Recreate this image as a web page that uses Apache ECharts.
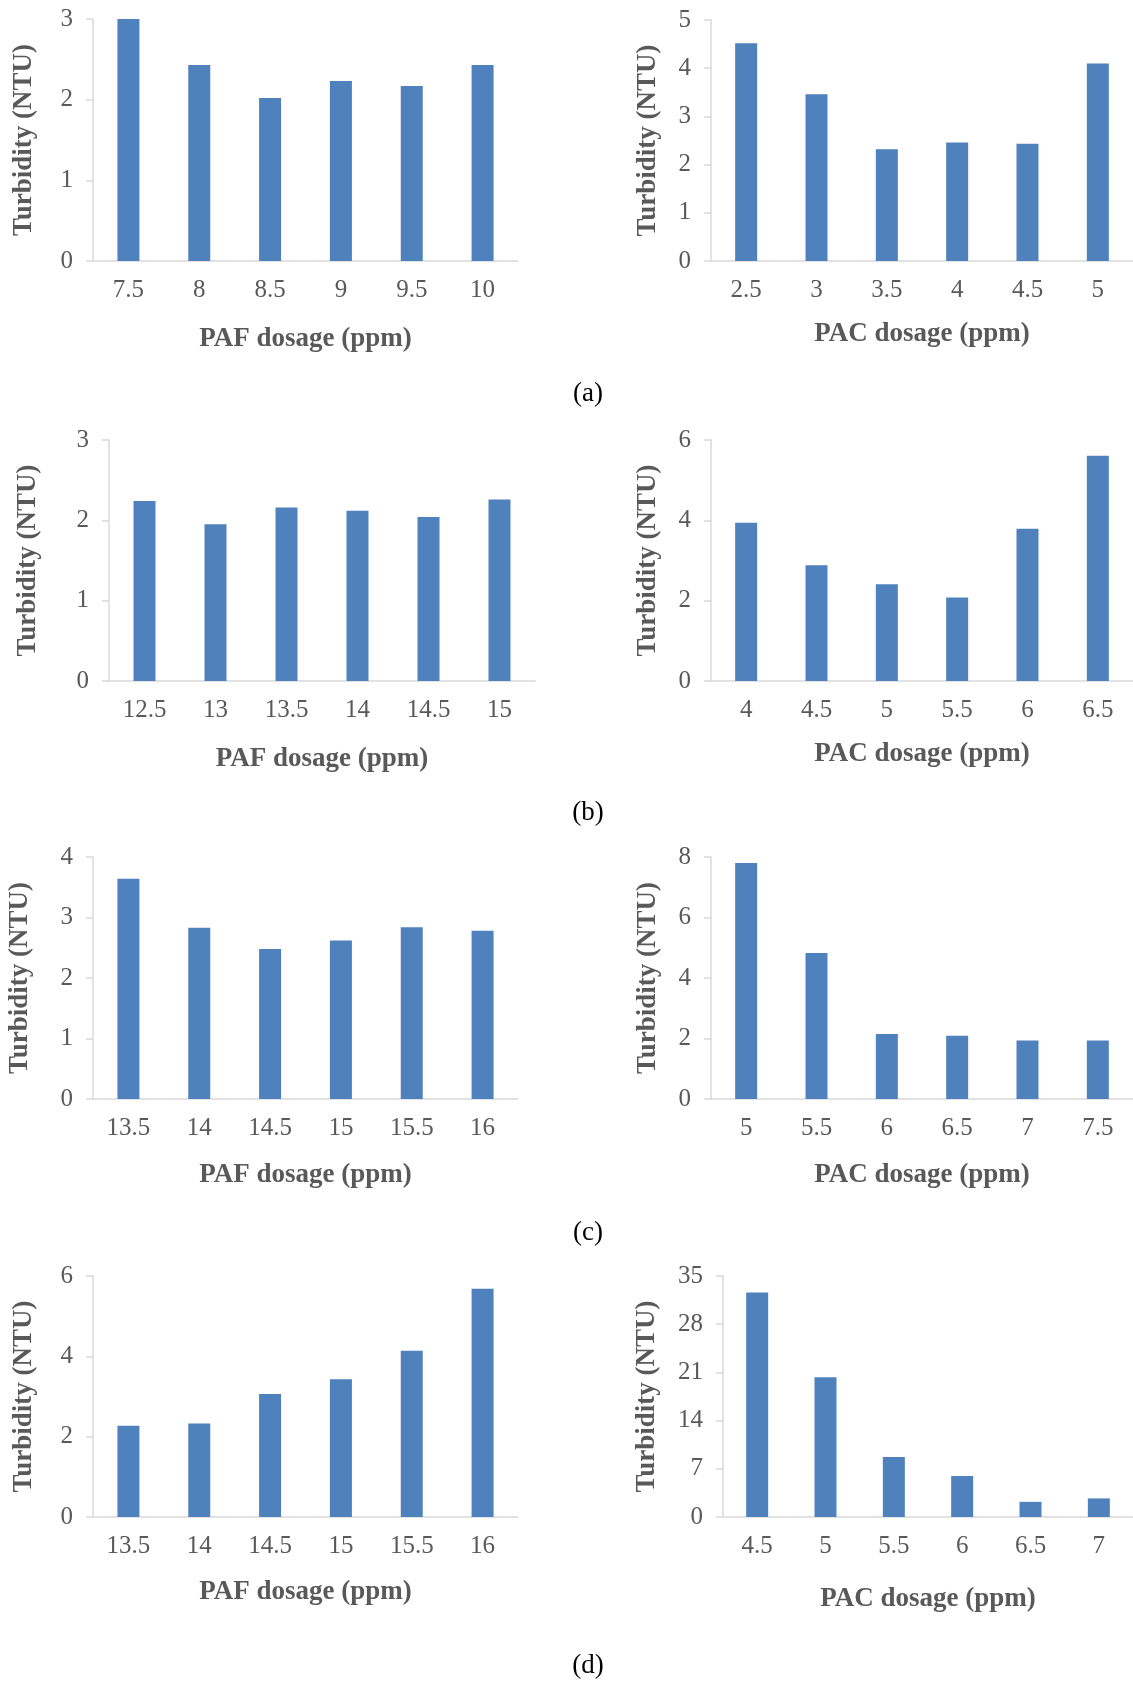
<!DOCTYPE html>
<html>
<head>
<meta charset="utf-8">
<script src="https://cdn.jsdelivr.net/npm/echarts@6/dist/echarts.min.js"></script>
<style>
  html, body { margin: 0; padding: 0; background: #fff; }
  #chart { width: 1133px; height: 1686px; }
</style>
</head>
<body>
<div id="chart"></div>
<script>
// (a)
var pafDoseA = ['7.5', '8', '8.5', '9', '9.5', '10'];
var pafTurbA = [3.0, 2.43, 2.02, 2.23, 2.17, 2.43];
var pacDoseA = ['2.5', '3', '3.5', '4', '4.5', '5'];
var pacTurbA = [4.52, 3.46, 2.32, 2.46, 2.43, 4.10];
// (b)
var pafDoseB = ['12.5', '13', '13.5', '14', '14.5', '15'];
var pafTurbB = [2.24, 1.95, 2.16, 2.12, 2.04, 2.26];
var pacDoseB = ['4', '4.5', '5', '5.5', '6', '6.5'];
var pacTurbB = [3.94, 2.88, 2.41, 2.08, 3.79, 5.61];
// (c)
var pafDoseC = ['13.5', '14', '14.5', '15', '15.5', '16'];
var pafTurbC = [3.64, 2.83, 2.48, 2.62, 2.84, 2.78];
var pacDoseC = ['5', '5.5', '6', '6.5', '7', '7.5'];
var pacTurbC = [7.80, 4.83, 2.15, 2.09, 1.93, 1.93];
// (d)
var pafDoseD = ['13.5', '14', '14.5', '15', '15.5', '16'];
var pafTurbD = [2.27, 2.33, 3.06, 3.43, 4.14, 5.68];
var pacDoseD = ['4.5', '5', '5.5', '6', '6.5', '7'];
var pacTurbD = [32.6, 20.3, 8.7, 5.95, 2.2, 2.7];

var yMax = [3, 5, 3, 6, 4, 8, 6, 35];
var yStep = [1, 1, 1, 2, 1, 2, 2, 7];
var panelTags = ['(a)', '(b)', '(c)', '(d)'];

var FONT = "'Liberation Serif', 'Times New Roman', serif";
var GRAY = '#595959';
var LINE = '#d9d9d9';
var BAR = '#4f81bd';

var chart = echarts.init(document.getElementById('chart'));

var panels = [
  { cats: pafDoseA, vals: pafTurbA, name: 'PAF dosage (ppm)', grid: { left: 93, top: 19, width: 425, height: 242 }, xGap: 65, yGap: 55 },
  { cats: pacDoseA, vals: pacTurbA, name: 'PAC dosage (ppm)', grid: { left: 711, top: 20, width: 425, height: 241 }, xGap: 60, yGap: 49 },
  { cats: pafDoseB, vals: pafTurbB, name: 'PAF dosage (ppm)', grid: { left: 109, top: 440, width: 426, height: 241 }, xGap: 65, yGap: 67 },
  { cats: pacDoseB, vals: pacTurbB, name: 'PAC dosage (ppm)', grid: { left: 711, top: 440, width: 425, height: 241 }, xGap: 60, yGap: 49 },
  { cats: pafDoseC, vals: pafTurbC, name: 'PAF dosage (ppm)', grid: { left: 93, top: 857, width: 425, height: 242 }, xGap: 63, yGap: 59 },
  { cats: pacDoseC, vals: pacTurbC, name: 'PAC dosage (ppm)', grid: { left: 711, top: 857, width: 425, height: 242 }, xGap: 63, yGap: 49 },
  { cats: pafDoseD, vals: pafTurbD, name: 'PAF dosage (ppm)', grid: { left: 93, top: 1276, width: 425, height: 241 }, xGap: 62, yGap: 55 },
  { cats: pacDoseD, vals: pacTurbD, name: 'PAC dosage (ppm)', grid: { left: 723, top: 1276, width: 415, height: 241 }, xGap: 69, yGap: 62 }
];

var grids = [], xAxes = [], yAxes = [], series = [];
panels.forEach(function (p, i) {
  grids.push(p.grid);
  xAxes.push({
    type: 'category',
    gridIndex: i,
    data: p.cats,
    name: p.name,
    nameLocation: 'middle',
    nameGap: p.xGap,
    nameTextStyle: { fontFamily: FONT, fontSize: 27, fontWeight: 'bold', color: GRAY },
    axisLine: { lineStyle: { color: LINE, width: 1.5 } },
    axisTick: { length: 6, lineStyle: { color: LINE, width: 1.5 } },
    axisLabel: { fontFamily: FONT, fontSize: 25, color: GRAY, margin: 17 }
  });
  yAxes.push({
    type: 'value',
    gridIndex: i,
    min: 0,
    max: yMax[i],
    interval: yStep[i],
    name: 'Turbidity (NTU)',
    nameLocation: 'middle',
    nameGap: p.yGap,
    nameTextStyle: { fontFamily: FONT, fontSize: 27, fontWeight: 'bold', color: GRAY },
    axisLine: { show: true, lineStyle: { color: LINE, width: 1.5 } },
    axisTick: { show: true, length: 7, lineStyle: { color: LINE, width: 1.5 } },
    axisLabel: { fontFamily: FONT, fontSize: 25, color: GRAY, margin: 20 },
    splitLine: { show: false }
  });
  series.push({
    type: 'bar',
    xAxisIndex: i,
    yAxisIndex: i,
    data: p.vals,
    barWidth: 22,
    itemStyle: { color: BAR },
    silent: true
  });
});

var tagY = [394, 813, 1233, 1666];
var graphics = panelTags.map(function (t, k) {
  return {
    type: 'text',
    x: 588,
    y: tagY[k],
    style: { text: t, fontFamily: FONT, fontSize: 27, fill: '#000', textAlign: 'center', textVerticalAlign: 'middle' }
  };
});

chart.setOption({
  animation: false,
  backgroundColor: '#fff',
  grid: grids,
  xAxis: xAxes,
  yAxis: yAxes,
  series: series,
  graphic: graphics
});
</script>
</body>
</html>
